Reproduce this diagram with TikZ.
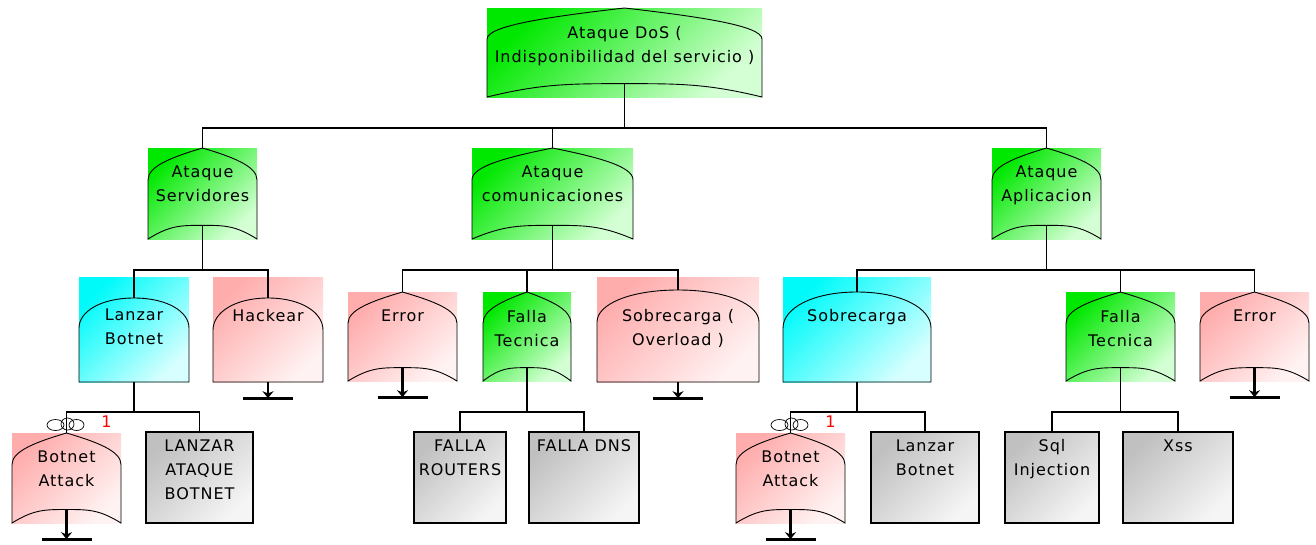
\documentclass[tikz,border=0pt]{standalone}
\usepackage{fontspec}
\setmainfont{DejaVu Sans}[LetterSpace=6]
\usetikzlibrary{arrows.meta}

\definecolor{grnA}{RGB}{0,232,0}
\definecolor{grnB}{RGB}{212,255,212}
\definecolor{cynA}{RGB}{0,250,250}
\definecolor{cynB}{RGB}{215,255,255}
\definecolor{pnkA}{RGB}{255,172,172}
\definecolor{pnkB}{RGB}{255,242,242}
\definecolor{gryA}{RGB}{192,192,192}
\definecolor{gryB}{RGB}{245,245,245}

\tikzset{
  box_style/.style={rectangle, inner sep=0pt},
  fill_green/.style={top color=grnA, bottom color=grnB, shading angle=45},
  fill_cyan/.style={top color=cynA, bottom color=cynB, shading angle=45},
  fill_pink/.style={top color=pnkA, bottom color=pnkB, shading angle=45},
  fill_gray/.style={top color=gryA, bottom color=gryB, shading angle=45},
  gate_style/.style={draw=black, line width=0.9pt},
  edge_style/.style={draw=black, line width=1.3pt},
  txt_style/.style={font=\fontsize{16}{24}\selectfont, align=center, inner sep=0pt, anchor=north},
  stem_style/.style={line width=2.6pt, -{Stealth[length=7pt,width=11pt]}},
  ground_style/.style={line width=3.2pt}
}

% or gate: name, left, right, top, bottom, fill, text
\newcommand{\orgate}[7]{
  \pgfmathsetmacro{\gmid}{(#2+#3)/2}
  \pgfmathsetmacro{\gwd}{#3-#2}
  \pgfmathsetmacro{\ght}{#5-#4}
  \node[box_style,#6,minimum width=\gwd pt,minimum height=\ght pt] (#1) at (\gmid,{(#4+#5)/2}) {};
  \coordinate (#1-t) at (\gmid,#4);
  \coordinate (#1-b) at (\gmid,{#5-0.15*\ght});
  \draw[gate_style] (#2,#5) -- (#2,{#4+0.35*\ght})
    .. controls (#2,{#4+0.2*\ght}) and ({#2+0.22*\gwd},{#4+0.1*\ght}) .. (#1-t)
    .. controls ({#3-0.22*\gwd},{#4+0.1*\ght}) and (#3,{#4+0.2*\ght}) .. (#3,{#4+0.35*\ght})
    -- (#3,#5)
    .. controls ({#3-0.2*\gwd},{#5-0.15*\ght}) and ({\gmid+0.2*\gwd},{#5-0.15*\ght}) .. (#1-b)
    .. controls ({\gmid-0.2*\gwd},{#5-0.15*\ght}) and ({#2+0.2*\gwd},{#5-0.15*\ght}) .. cycle;
  \node[txt_style] (#1-l) at ([yshift=-18pt]#1.north) {#7};
}

% and gate: name, left, right, top, bottom, peak, side, fill, text
\newcommand{\andgate}[9]{
  \pgfmathsetmacro{\gmid}{(#2+#3)/2}
  \pgfmathsetmacro{\gwd}{#3-#2}
  \pgfmathsetmacro{\gdp}{#7-#6}
  \node[box_style,#8,minimum width=\gwd pt,minimum height={(#5-#4)*1pt}] (#1) at (\gmid,{(#4+#5)/2}) {};
  \coordinate (#1-t) at (\gmid,#6);
  \coordinate (#1-b) at (\gmid,#5);
  \draw[gate_style] (#2,#5) -- (#2,#7)
    .. controls (#2,{#7-0.55*\gdp}) and ({\gmid-0.3*\gwd},#6) .. (#1-t)
    .. controls ({\gmid+0.3*\gwd},#6) and (#3,{#7-0.55*\gdp}) .. (#3,#7)
    -- (#3,#5) -- cycle;
  \node[txt_style] (#1-l) at ([yshift=-32pt]#1.north) {#9};
}

% leaf: name, left, right, top, bottom, text
\newcommand{\leaf}[6]{
  \node[box_style,fill_gray,draw=black,line width=1.2pt,minimum width={(#3-#2)*1pt},minimum height={(#5-#4)*1pt}] (#1) at ({(#2+#3)/2},{(#4+#5)/2}) {};
  \coordinate (#1-t) at (#1.north);
  \node[txt_style] (#1-l) at ([yshift=-8pt]#1.north) {#6};
}

\begin{document}
\begin{tikzpicture}[x=1pt, y=-1pt]
  \useasboundingbox (0,0) rectangle (1316,544);

  % gates
  \orgate{root}{487}{762}{8}{97}{fill_green}{Ataque DoS (\\Indisponibilidad del servicio )}
  \orgate{serv}{148}{257}{148}{239}{fill_green}{Ataque\\Servidores}
  \orgate{comm}{472}{633}{148}{239}{fill_green}{Ataque\\comunicaciones}
  \orgate{apl}{992}{1101}{148}{239}{fill_green}{Ataque\\Aplicacion}

  \andgate{lb}{79}{189}{277}{382}{298}{328}{fill_cyan}{Lanzar\\Botnet}
  \andgate{hack}{213}{323}{277}{382}{298}{330}{fill_pink}{Hackear}
  \orgate{err1}{348}{457}{292}{381}{fill_pink}{Error}
  \orgate{ft1}{483}{571}{292}{381}{fill_green}{Falla\\Tecnica}
  \andgate{sob1}{597}{759}{277}{382}{290}{322}{fill_pink}{Sobrecarga (\\Overload )}
  \andgate{sob2}{783}{931}{277}{382}{292}{328}{fill_cyan}{Sobrecarga}
  \orgate{ft2}{1066}{1175}{292}{381}{fill_green}{Falla\\Tecnica}
  \orgate{err2}{1200}{1309}{292}{381}{fill_pink}{Error}

  \orgate{ba1}{12}{121}{433}{523}{fill_pink}{Botnet\\Attack}
  \orgate{ba2}{736}{845}{433}{523}{fill_pink}{Botnet\\Attack}

  % leaves
  \leaf{lab}{146}{253}{432}{523}{LANZAR\\ATAQUE\\BOTNET}
  \leaf{fr}{414}{506}{432}{523}{FALLA\\ROUTERS}
  \leaf{fdns}{529}{639}{432}{523}{FALLA DNS}
  \leaf{lb2}{871}{979}{432}{523}{Lanzar\\Botnet}
  \leaf{sql}{1005}{1099}{432}{523}{Sql\\Injection}
  \leaf{xss}{1123}{1233}{432}{523}{Xss}

  % junctions
  \coordinate (root-j) at (root-b |- 0,128);
  \foreach \g in {serv,comm,apl}
    \coordinate (\g-j) at (\g-b |- 0,270);
  \foreach \g in {lb,ft1,sob2,ft2}
    \coordinate (\g-j) at (\g-b |- 0,412);

  \foreach \from/\to in {root/serv, root/comm, root/apl, serv/lb, serv/hack,
      comm/err1, comm/ft1, comm/sob1, apl/sob2, apl/ft2, apl/err2,
      lb/ba1, lb/lab, ft1/fr, ft1/fdns, sob2/ba2, sob2/lb2, ft2/sql, ft2/xss}
    \draw[edge_style] (\from-b) -- (\from-j) -| (\to-t);

  % undeveloped events
  \foreach \g in {hack,err1,sob1,err2,ba1,ba2}{
    \coordinate (\g-u) at ([yshift=-16pt]\g.south);
    \draw[stem_style] (\g-b) -- (\g-u);
    \draw[ground_style] ([xshift=-25pt]\g-u) -- ([xshift=25pt]\g-u);
  }

  % repeated event marks
  \foreach \g in {ba1,ba2}{
    \draw[line width=0.7pt] ([xshift=-11pt,yshift=8pt]\g-t) ellipse [x radius=8.5pt, y radius=5.5pt];
    \draw[line width=0.7pt] ([xshift=10pt,yshift=8pt]\g-t) ellipse [x radius=7.5pt, y radius=5.5pt];
    \draw[line width=0.7pt] ([xshift=1pt,yshift=9pt]\g-t) ellipse [x radius=6.5pt, y radius=6pt];
    \node[txt_style, text=red, anchor=center] (\g-n) at ([xshift=40pt,yshift=11pt]\g-t) {1};
  }
\end{tikzpicture}
\end{document}
